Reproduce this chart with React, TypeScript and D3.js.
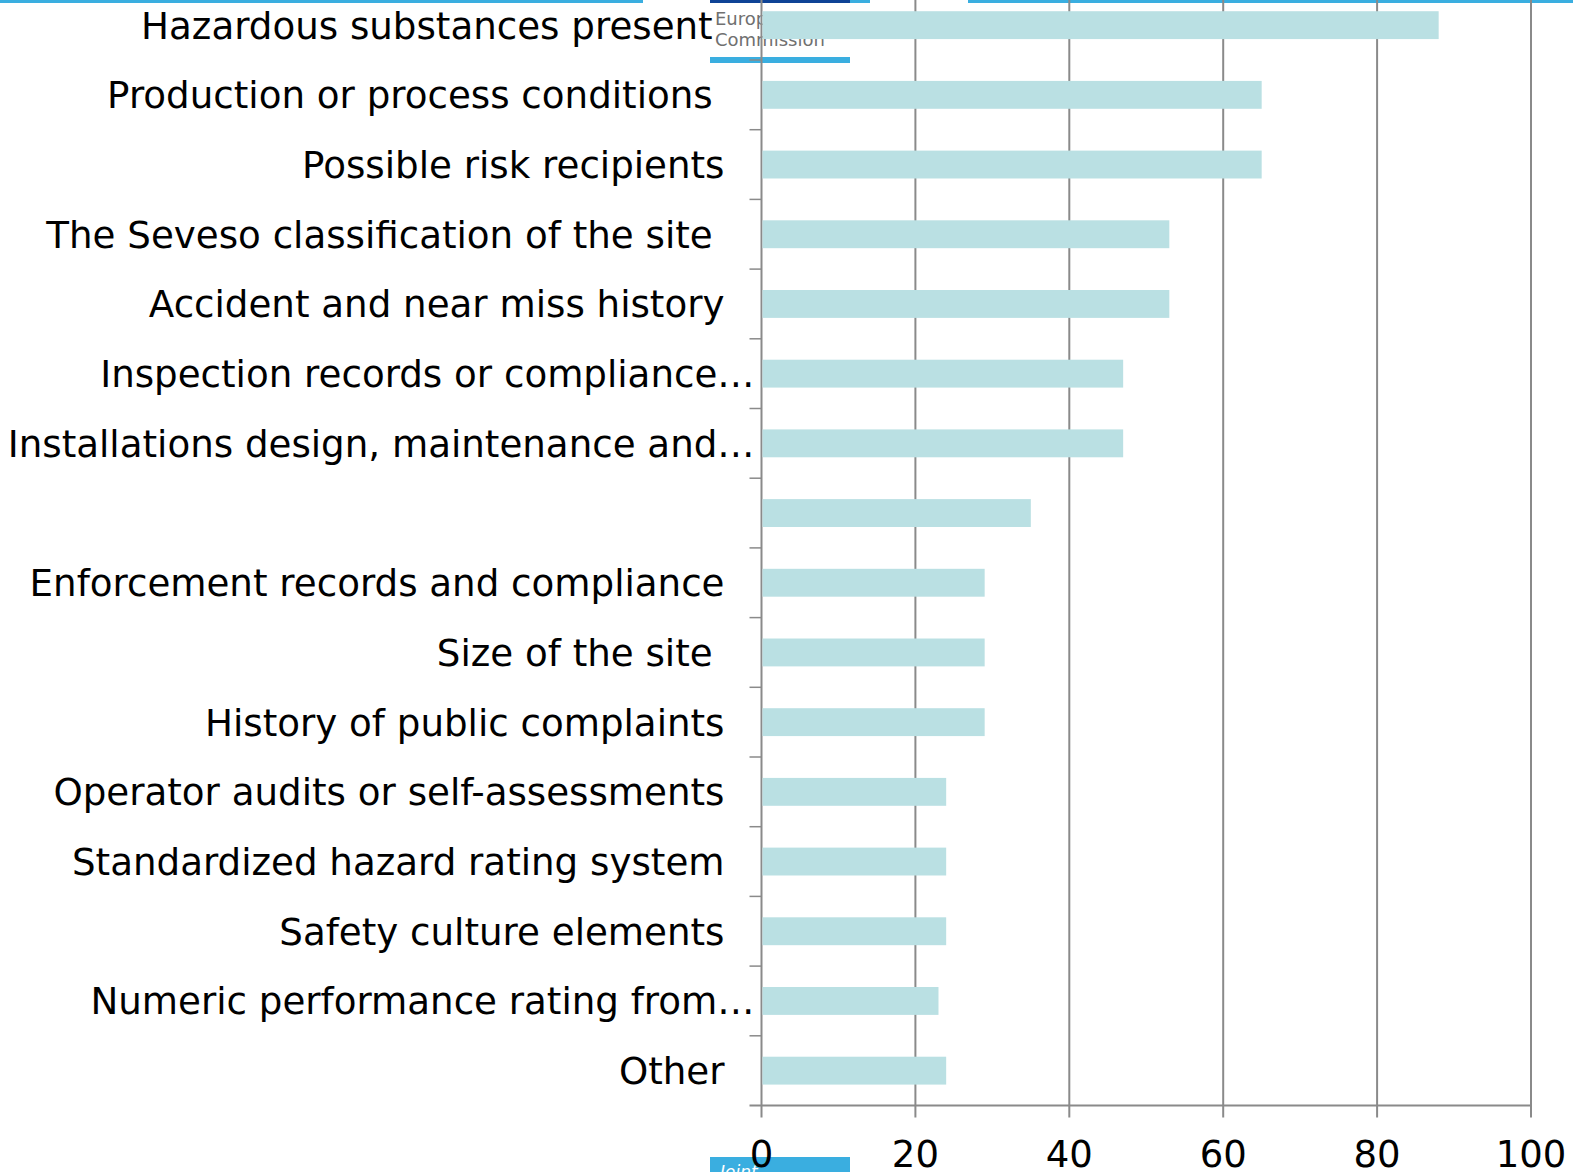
import React from "react";
import * as d3 from "d3";

// Criteria used to set inspection priorities, with their shares
const categories: string[] = [
  "Hazardous substances present ",
  "Production or process conditions ",
  "Possible risk recipients",
  "The Seveso classification of the site ",
  "Accident and near miss history",
  "Inspection records or compliance…",
  "Installations design, maintenance and…",
  "",
  "Enforcement records and compliance",
  "Size of the site ",
  "History of public complaints",
  "Operator audits or self-assessments",
  "Standardized hazard rating system",
  "Safety culture elements",
  "Numeric performance rating from…",
  "Other",
];

const values: number[] = [88, 65, 65, 53, 53, 47, 47, 35, 29, 29, 29, 24, 24, 24, 23, 24];

const xTicks: number[] = [0, 20, 40, 60, 80, 100];

const W = 1573;
const H = 1172;
const FONT = "'DejaVu Sans', Verdana, sans-serif";
const GRID = "#8a8a8a";
const BAR = "#bae0e3";
const BLUE = "#3aaee0";
const NAVY = "#0f4396";

export default function App() {
  const x = d3.scaleLinear().domain([0, 100]).range([761.5, 1531]);
  const y = d3
    .scaleBand<number>()
    .domain(d3.range(categories.length))
    .range([-9.7, 1105.5])
    .paddingInner(0.6)
    .paddingOuter(0.3);

  const step = y.step();
  const top = y.range()[0];
  const axisY = y.range()[1];
  const x0 = x(0);
  const tickLen = 12;

  const boundaries = d3.range(1, categories.length).map((k) => top + k * step);

  return (
    <div style={{ position: "absolute", left: 0, top: 0 }}>
      <svg width={W} height={H} style={{ display: "block", background: "#fff" }}>
        {/* page header strip */}
        <rect x={0} y={0} width={643} height={3} fill={BLUE} />
        <rect x={710} y={0} width={140} height={3} fill={NAVY} />
        <rect x={850} y={0} width={20} height={3} fill={BLUE} />
        <rect x={968} y={0} width={W - 968} height={3} fill={BLUE} />

        {/* logo block */}
        <g fontFamily={FONT} fill="#707070" fontSize={18}>
          <text x={715} y={25}>European</text>
          <text x={715} y={46}>Commission</text>
        </g>
        <rect x={710} y={57} width={140} height={6} fill={BLUE} />

        {/* footer tab */}
        <rect x={710} y={1157} width={140} height={H - 1157} fill={BLUE} />
        <text x={720} y={1178} fill="#fff" fontStyle="italic" fontFamily={FONT} fontSize={17}>
          Joint
        </text>

        {/* vertical grid lines and x ticks */}
        {xTicks.map((t) => (
          <line
            key={`g${t}`}
            x1={x(t)}
            x2={x(t)}
            y1={0}
            y2={axisY + tickLen}
            stroke={GRID}
            strokeWidth={2}
          />
        ))}

        {/* horizontal axis */}
        <line x1={x0 - tickLen} x2={x(100)} y1={axisY} y2={axisY} stroke={GRID} strokeWidth={2} />

        {/* category boundary ticks */}
        {boundaries.map((b, i) => (
          <line key={`t${i}`} x1={x0 - tickLen} x2={x0} y1={b} y2={b} stroke={GRID} strokeWidth={1.5} />
        ))}

        {/* bars */}
        {values.map((v, i) => (
          <rect
            key={`b${i}`}
            x={x0 + 1}
            y={y(i)!}
            width={x(v) - x0 - 1}
            height={y.bandwidth()}
            fill={BAR}
          />
        ))}

        {/* category labels */}
        <g fontFamily={FONT} fontSize={37.2} fill="#000">
          {categories.map((c, i) => (
            <text
              key={`c${i}`}
              x={c.endsWith("…") ? x0 - 7 : x0 - 37}
              y={y(i)! + y.bandwidth() / 2}
              dy="0.36em"
              textAnchor="end"
              xmlSpace="preserve"
              style={{ whiteSpace: "pre" }}
            >
              {c}
            </text>
          ))}
        </g>

        {/* x tick labels */}
        <g fontFamily={FONT} fontSize={37} fill="#000">
          {xTicks.map((t) => (
            <text key={`l${t}`} x={x(t)} y={1167} textAnchor="middle">
              {t}
            </text>
          ))}
        </g>
      </svg>
    </div>
  );
}
